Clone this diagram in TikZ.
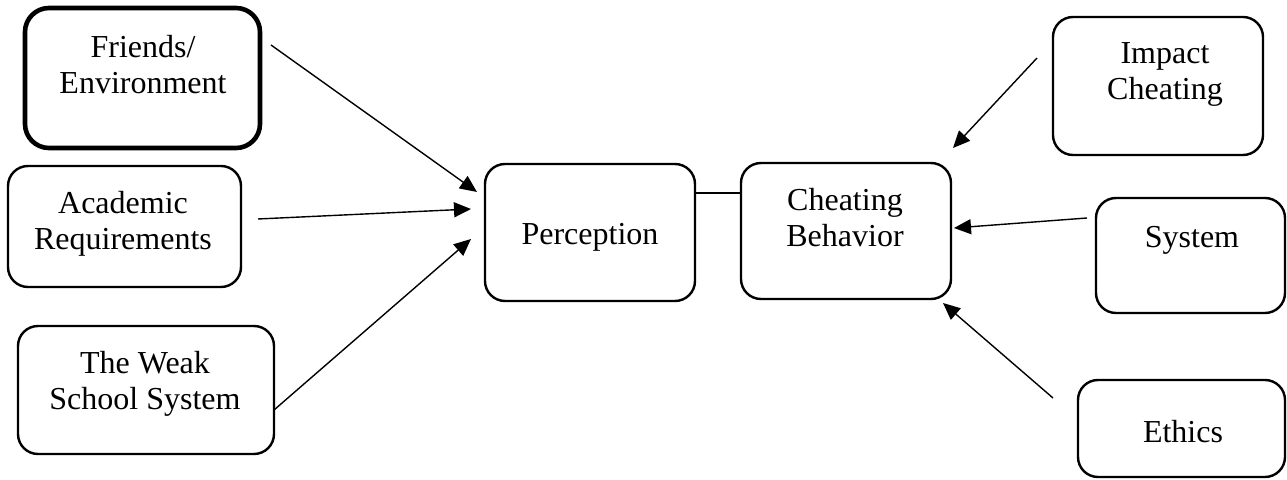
\documentclass[tikz,border=0pt]{standalone}
\usepackage{fontspec}
\setmainfont{Liberation Serif}
\usetikzlibrary{arrows.meta,fit}
\begin{document}
\begin{tikzpicture}[x=0.5pt,y=-0.5pt,
 box/.style={draw, rounded corners=10pt, line width=1.2pt, inner sep=0pt},
 thickbox/.style={box, line width=2.3pt, rounded corners=12pt},
 txt/.style={align=center, font=\fontsize{16}{18}\selectfont, inner sep=0pt},
 arr/.style={line width=0.7pt, -{Triangle[length=8.5pt,width=7.5pt]}},
 link/.style={line width=0.9pt}]
\useasboundingbox (0,0) rectangle (1287,480);
% boxes
\node[thickbox, fit={(25,8)(260,148)}] (fr) {};
\node[txt] (frt) at (143,65) {Friends/\\Environment};
\node[box, fit={(8,166)(241,287)}] (ac) {};
\node[txt] (act) at (123,224) {Academic\\Requirements};
\node[box, fit={(18,326)(274,454)}] (ws) {};
\node[txt] (wst) at (145,384) {The Weak\\School System};
\node[box, fit={(485,164)(695,301)}] (pe) {};
\node[txt] (pet) at (590,237) {Perception};
\node[box, fit={(741,163)(951,299)}] (cb) {};
\node[txt] (cbt) at (845,218) {Cheating\\Behavior};
\node[box, fit={(1053,17)(1263,155)}] (ic) {};
\node[txt] (ict) at (1165,74) {Impact\\Cheating};
\node[box, fit={(1096,198)(1285,313)}] (sy) {};
\node[txt] (syt) at (1192,240) {System};
\node[box, fit={(1078,380)(1285,477)}] (et) {};
\node[txt] (ett) at (1183,432) {Ethics};
% link between perception and cheating behavior
\coordinate (lk) at (0,193);
\draw[link] (pe.east |- lk) -- (cb.west |- lk);
% arrow end points
\coordinate (frs) at (271,45);   \coordinate (fre) at (477,192);
\coordinate (acs) at (258,219);  \coordinate (ace) at (471,209);
\coordinate (wss) at (274,410);  \coordinate (wse) at (471,239);
\coordinate (ics) at (1037,58);  \coordinate (ice) at (953,148);
\coordinate (sys) at (1087,218); \coordinate (sye) at (954,228);
\coordinate (ets) at (1053,398); \coordinate (ete) at (943,303);
\draw[arr] (frs) -- (fre);
\draw[arr] (acs) -- (ace);
\draw[arr] (wss) -- (wse);
\draw[arr] (ics) -- (ice);
\draw[arr] (sys) -- (sye);
\draw[arr] (ets) -- (ete);
\end{tikzpicture}
\end{document}
